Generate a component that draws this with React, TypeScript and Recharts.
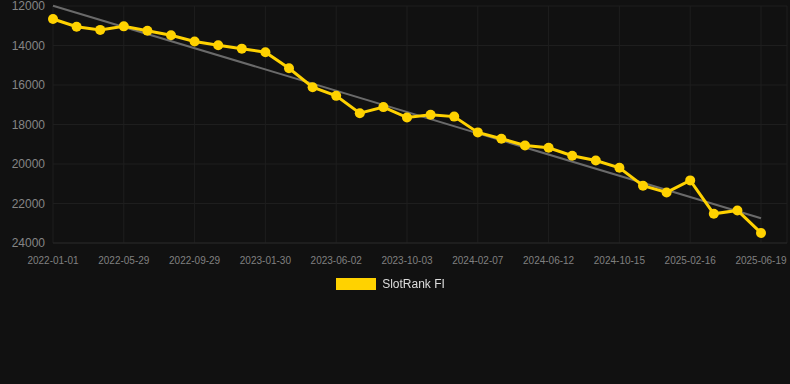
import {
  LineChart,
  Line,
  XAxis,
  YAxis,
  CartesianGrid,
  Legend,
  ReferenceLine,
} from "recharts";

const dates = [
  "2022-01-01", "2022-02-19", "2022-04-09", "2022-05-29", "2022-07-09",
  "2022-08-19", "2022-09-29", "2022-11-09", "2022-12-20", "2023-01-30",
  "2023-03-12", "2023-04-22", "2023-06-02", "2023-07-13", "2023-08-23",
  "2023-10-03", "2023-11-14", "2023-12-26", "2024-02-07", "2024-03-19",
  "2024-04-30", "2024-06-12", "2024-07-24", "2024-09-03", "2024-10-15",
  "2024-11-25", "2025-01-05", "2025-02-16", "2025-03-29", "2025-05-09",
  "2025-06-19",
];

const ranks = [
  12660, 13050, 13210, 13030, 13250, 13480, 13800, 13990, 14160, 14340,
  15150, 16110, 16550, 17430, 17120, 17650, 17510, 17600, 18400, 18720,
  19060, 19180, 19580, 19820, 20190, 21100, 21440, 20830, 22520, 22350,
  23490,
];

const tickDates = [
  "2022-01-01", "2022-05-29", "2022-09-29", "2023-01-30", "2023-06-02",
  "2023-10-03", "2024-02-07", "2024-06-12", "2024-10-15", "2025-02-16",
  "2025-06-19",
];

const rankTicks = [12000, 14000, 16000, 18000, 20000, 22000, 24000];

// trend line ends (first and last date)
const trendValues = [11985, 22750];

const seriesName = "SlotRank FI";
const YELLOW = "#ffd200";
const FONT = "'Liberation Sans', Arial, Helvetica, sans-serif";

const data = dates.map((date, i) => ({ date, rank: ranks[i] }));

const LegendContent = () => (
  <div
    style={{
      display: "flex",
      justifyContent: "center",
      alignItems: "center",
      paddingTop: 2,
      height: 20,
      boxSizing: "border-box",
      fontFamily: FONT,
      fontSize: 12,
      color: "#dddddd",
      transform: "translateX(-3px)",
    }}
  >
    <span
      style={{
        display: "inline-block",
        width: 40,
        height: 12,
        background: YELLOW,
        marginRight: 6,
      }}
    />
    {seriesName}
  </div>
);

export default function App() {
  return (
    <div
      style={{
        position: "fixed",
        left: 0,
        top: 0,
        width: 790,
        height: 384,
        background: "#111111",
      }}
    >
      <LineChart
        width={790}
        height={384}
        data={data}
        margin={{ top: 6, right: 3, bottom: 91, left: 0 }}
      >
        <CartesianGrid stroke="#1e1e1e" strokeWidth={1} />
        <XAxis
          dataKey="date"
          ticks={tickDates}
          interval={0}
          padding={{ left: 0, right: 26 }}
          axisLine={{ stroke: "#262626" }}
          tickLine={false}
          tickMargin={8}
          tick={{ fill: "#808080", fontSize: 10, fontFamily: FONT }}
        />
        <YAxis
          reversed
          domain={[12000, 24000]}
          ticks={rankTicks}
          interval={0}
          width={53}
          axisLine={false}
          tickLine={false}
          tick={{ fill: "#858585", fontSize: 12, fontFamily: FONT }}
        />
        <ReferenceLine
          segment={[
            { x: dates[0], y: trendValues[0] },
            { x: dates[dates.length - 1], y: trendValues[1] },
          ]}
          stroke="#6a6a6a"
          strokeWidth={2}
          ifOverflow="visible"
        />
        <Line
          dataKey="rank"
          name={seriesName}
          stroke={YELLOW}
          strokeWidth={3}
          dot={{ r: 5, fill: YELLOW, stroke: YELLOW, strokeWidth: 0 }}
          isAnimationActive={false}
        />
        <Legend verticalAlign="bottom" content={LegendContent} />
      </LineChart>
    </div>
  );
}
